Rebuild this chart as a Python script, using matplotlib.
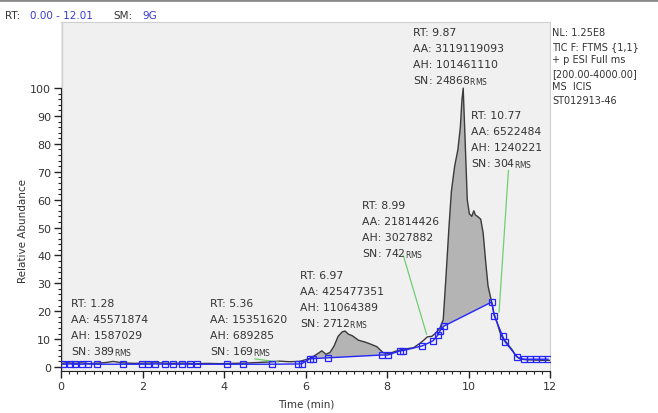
import numpy as np
import matplotlib
matplotlib.use("Agg")
import matplotlib.pyplot as plt
from matplotlib.ticker import MultipleLocator

# chromatogram trace: time (min) and relative abundance
trace_t = [0.00, 0.15, 0.30, 0.50, 0.70, 0.90, 1.10, 1.28, 1.50, 1.80, 2.10, 2.40,
           2.70, 3.00, 3.30, 3.60, 3.90, 4.20, 4.50, 4.80, 5.10, 5.36, 5.60, 5.85,
           6.00, 6.15, 6.30, 6.40, 6.50, 6.60, 6.70, 6.80, 6.90, 6.97, 7.05, 7.15,
           7.30, 7.45, 7.60, 7.75, 7.90, 8.05, 8.20, 8.35, 8.50, 8.65, 8.80, 8.90,
           8.99, 9.10, 9.20, 9.30, 9.38, 9.45, 9.52, 9.58, 9.66, 9.74, 9.80, 9.84,
           9.87, 9.92, 9.97, 10.02, 10.08, 10.13, 10.17, 10.22, 10.30, 10.36, 10.42,
           10.48, 10.55, 10.62, 10.70, 10.77, 10.85, 10.92, 11.00, 11.08, 11.15,
           11.25, 11.40, 11.60, 11.80, 12.00]
trace_v = [1.2, 1.6, 1.3, 1.5, 1.2, 1.4, 1.6, 2.0, 1.5, 1.3, 1.4, 1.5,
           1.3, 1.4, 1.2, 1.3, 1.2, 1.3, 1.4, 1.6, 1.8, 2.1, 1.9, 2.0,
           2.6, 3.4, 4.8, 5.8, 4.6, 5.2, 7.5, 11.0, 12.6, 12.9, 11.8, 11.2,
           9.6, 9.0, 8.2, 7.3, 5.2, 4.8, 5.6, 6.2, 6.6, 6.9, 8.4, 9.6,
           10.8, 11.0, 12.2, 14.0, 17.0, 33.0, 50.0, 63.0, 72.0, 78.0, 86.0, 96.0,
           100.0, 80.0, 60.0, 55.0, 54.0, 56.0, 54.5, 54.0, 53.0, 48.0, 38.0,
           29.0, 24.5, 19.5, 16.0, 12.5, 10.0, 9.0, 7.5, 6.0, 4.2,
           3.0, 2.6, 2.5, 2.4, 2.4]

# ICIS baseline points
base_t = [0.05, 0.22, 0.34, 0.52, 0.66, 0.88, 1.52, 1.99, 2.14, 2.31, 2.55, 2.75,
          2.97, 3.17, 3.34, 4.07, 4.47, 5.18, 5.82, 5.91, 6.10, 6.18, 6.55, 7.87,
          8.02, 8.32, 8.40, 8.87, 9.13, 9.25, 9.30, 9.40, 10.57, 10.63, 10.84,
          10.90, 11.20, 11.35, 11.50, 11.65, 11.80, 11.95]
base_v = [1.0, 1.1, 1.0, 1.0, 1.1, 1.0, 1.0, 1.0, 1.0, 1.1, 1.0, 1.0,
          1.0, 1.0, 1.0, 1.0, 1.0, 1.0, 1.1, 1.2, 2.9, 3.0, 3.3, 4.3,
          4.3, 5.8, 5.9, 7.6, 9.4, 11.5, 13.0, 14.7, 23.3, 18.4, 11.0,
          9.0, 3.5, 2.8, 2.8, 2.8, 2.8, 2.8]

# peak labels
peak_rt = ["1.28", "5.36", "6.97", "8.99", "9.87", "10.77"]
peak_aa = ["45571874", "15351620", "425477351", "21814426", "3119119093", "6522484"]
peak_ah = ["1587029", "689285", "11064389", "3027882", "101461110", "1240221"]
peak_sn = ["389", "169", "2712", "742", "24868", "304"]

# leader lines from labels to peaks (time, abundance)
leader_t = [(8.40, 8.97), (10.98, 10.75), (4.76, 5.33)]
leader_v = [(40.0, 11.8), (70.4, 19.7), (2.9, 1.8)]

info_lines = ["NL: 1.25E8", "TIC F: FTMS {1,1}", "+ p ESI Full ms",
              "[200.00-4000.00]", "MS  ICIS", "ST012913-46"]

W, H = 658, 414
txt = "#333333"
blue = "#2424ff"

fig = plt.figure(figsize=(W / 100, H / 100), dpi=100)
fig.patch.set_facecolor("white")

def px(x, y):
    return x / W, 1 - y / H

ax = fig.add_axes([61 / W, (H - 372) / H, (550 - 61) / W, (372 - 23) / H])
ax.set_facecolor("#f0f0f0")
ax.set_xlim(0, 12)
ax.set_ylim(-1.43, 123.7)

tt = np.array(trace_t)
tv = np.array(trace_v)
bv = np.interp(tt, base_t, base_v)
region = ((tt >= 6.1) & (tt <= 7.95)) | ((tt >= 9.3) & (tt <= 10.6)) | ((tt >= 10.85) & (tt <= 11.3))
ax.fill_between(tt, tv, bv, where=region & (tv > bv), interpolate=True,
                color="#b4b4b4", lw=0, zorder=2)
ax.plot(trace_t, trace_v, color="#3a3a3a", lw=1.0, zorder=3)
ax.plot(base_t, base_v, color=blue, lw=1.0, marker="s", ms=5,
        mfc="none", mec=blue, mew=0.9, zorder=4)

for lt, lv in zip(leader_t, leader_v):
    ax.plot(lt, lv, color="#6fcf6f", lw=0.9, zorder=3)

# axes styling
for s in ["top", "right"]:
    ax.spines[s].set_color("#cfcfcf")
ax.spines["left"].set_bounds(-1.43, 100)
ax.spines["left"].set_color("#222222")
ax.spines["bottom"].set_color("#222222")
ax.axvline(0.03, color="#cfcfcf", lw=1, zorder=0)

ax.xaxis.set_major_locator(MultipleLocator(2))
ax.xaxis.set_minor_locator(MultipleLocator(0.2))
ax.set_yticks(np.arange(0, 101, 10))
ax.yaxis.set_minor_locator(MultipleLocator(2))
ax.yaxis.set_minor_locator(plt.FixedLocator(np.arange(0, 101, 2)))
ax.tick_params(which="major", direction="out", length=5, width=1, colors="#222222",
               labelcolor=txt, labelsize=8, pad=2)
ax.tick_params(which="minor", direction="out", length=2.5, width=0.8, colors="#222222")

fig.text(*px(23, 231), "Relative Abundance", rotation=90, ha="center", va="center",
         fontsize=7.5, color=txt)
fig.text(*px(306, 405), "Time (min)", ha="center", va="center", fontsize=7.5, color=txt)

# peak label blocks: left x, baseline of first line (pixels)
label_pos = [(71, 307), (210, 307), (300, 279), (362, 209), (413, 36), (471, 119)]
for (x0, y0), rt, aa, ah, sn in zip(label_pos, peak_rt, peak_aa, peak_ah, peak_sn):
    lines = ["RT: " + rt, "AA: " + aa, "AH: " + ah,
             "SN: " + sn + r"$\mathregular{_{RMS}}$"]
    for i, s in enumerate(lines):
        fig.text(*px(x0, y0 + i * 16), s, ha="left", va="baseline",
                 fontsize=7.8, color=txt)

for i, s in enumerate(info_lines):
    fig.text(*px(552, 36 + i * 13.6), s, ha="left", va="baseline", fontsize=7,
             color=txt)

# header
fig.text(*px(5, 19), "RT:", fontsize=7.5, color=txt, va="baseline")
fig.text(*px(30, 19), "0.00 - 12.01", fontsize=7.5, color="#3a3acc", va="baseline")
fig.text(*px(113, 19), "SM:", fontsize=7.5, color=txt, va="baseline")
fig.text(*px(142, 19), "9G", fontsize=7.5, color="#3a3acc", va="baseline")
fig.add_artist(plt.Line2D([0, 1], [1 - 1 / H, 1 - 1 / H], color="#8a8a8a", lw=2,
                          transform=fig.transFigure))

fig.savefig("out.png", dpi=100)
